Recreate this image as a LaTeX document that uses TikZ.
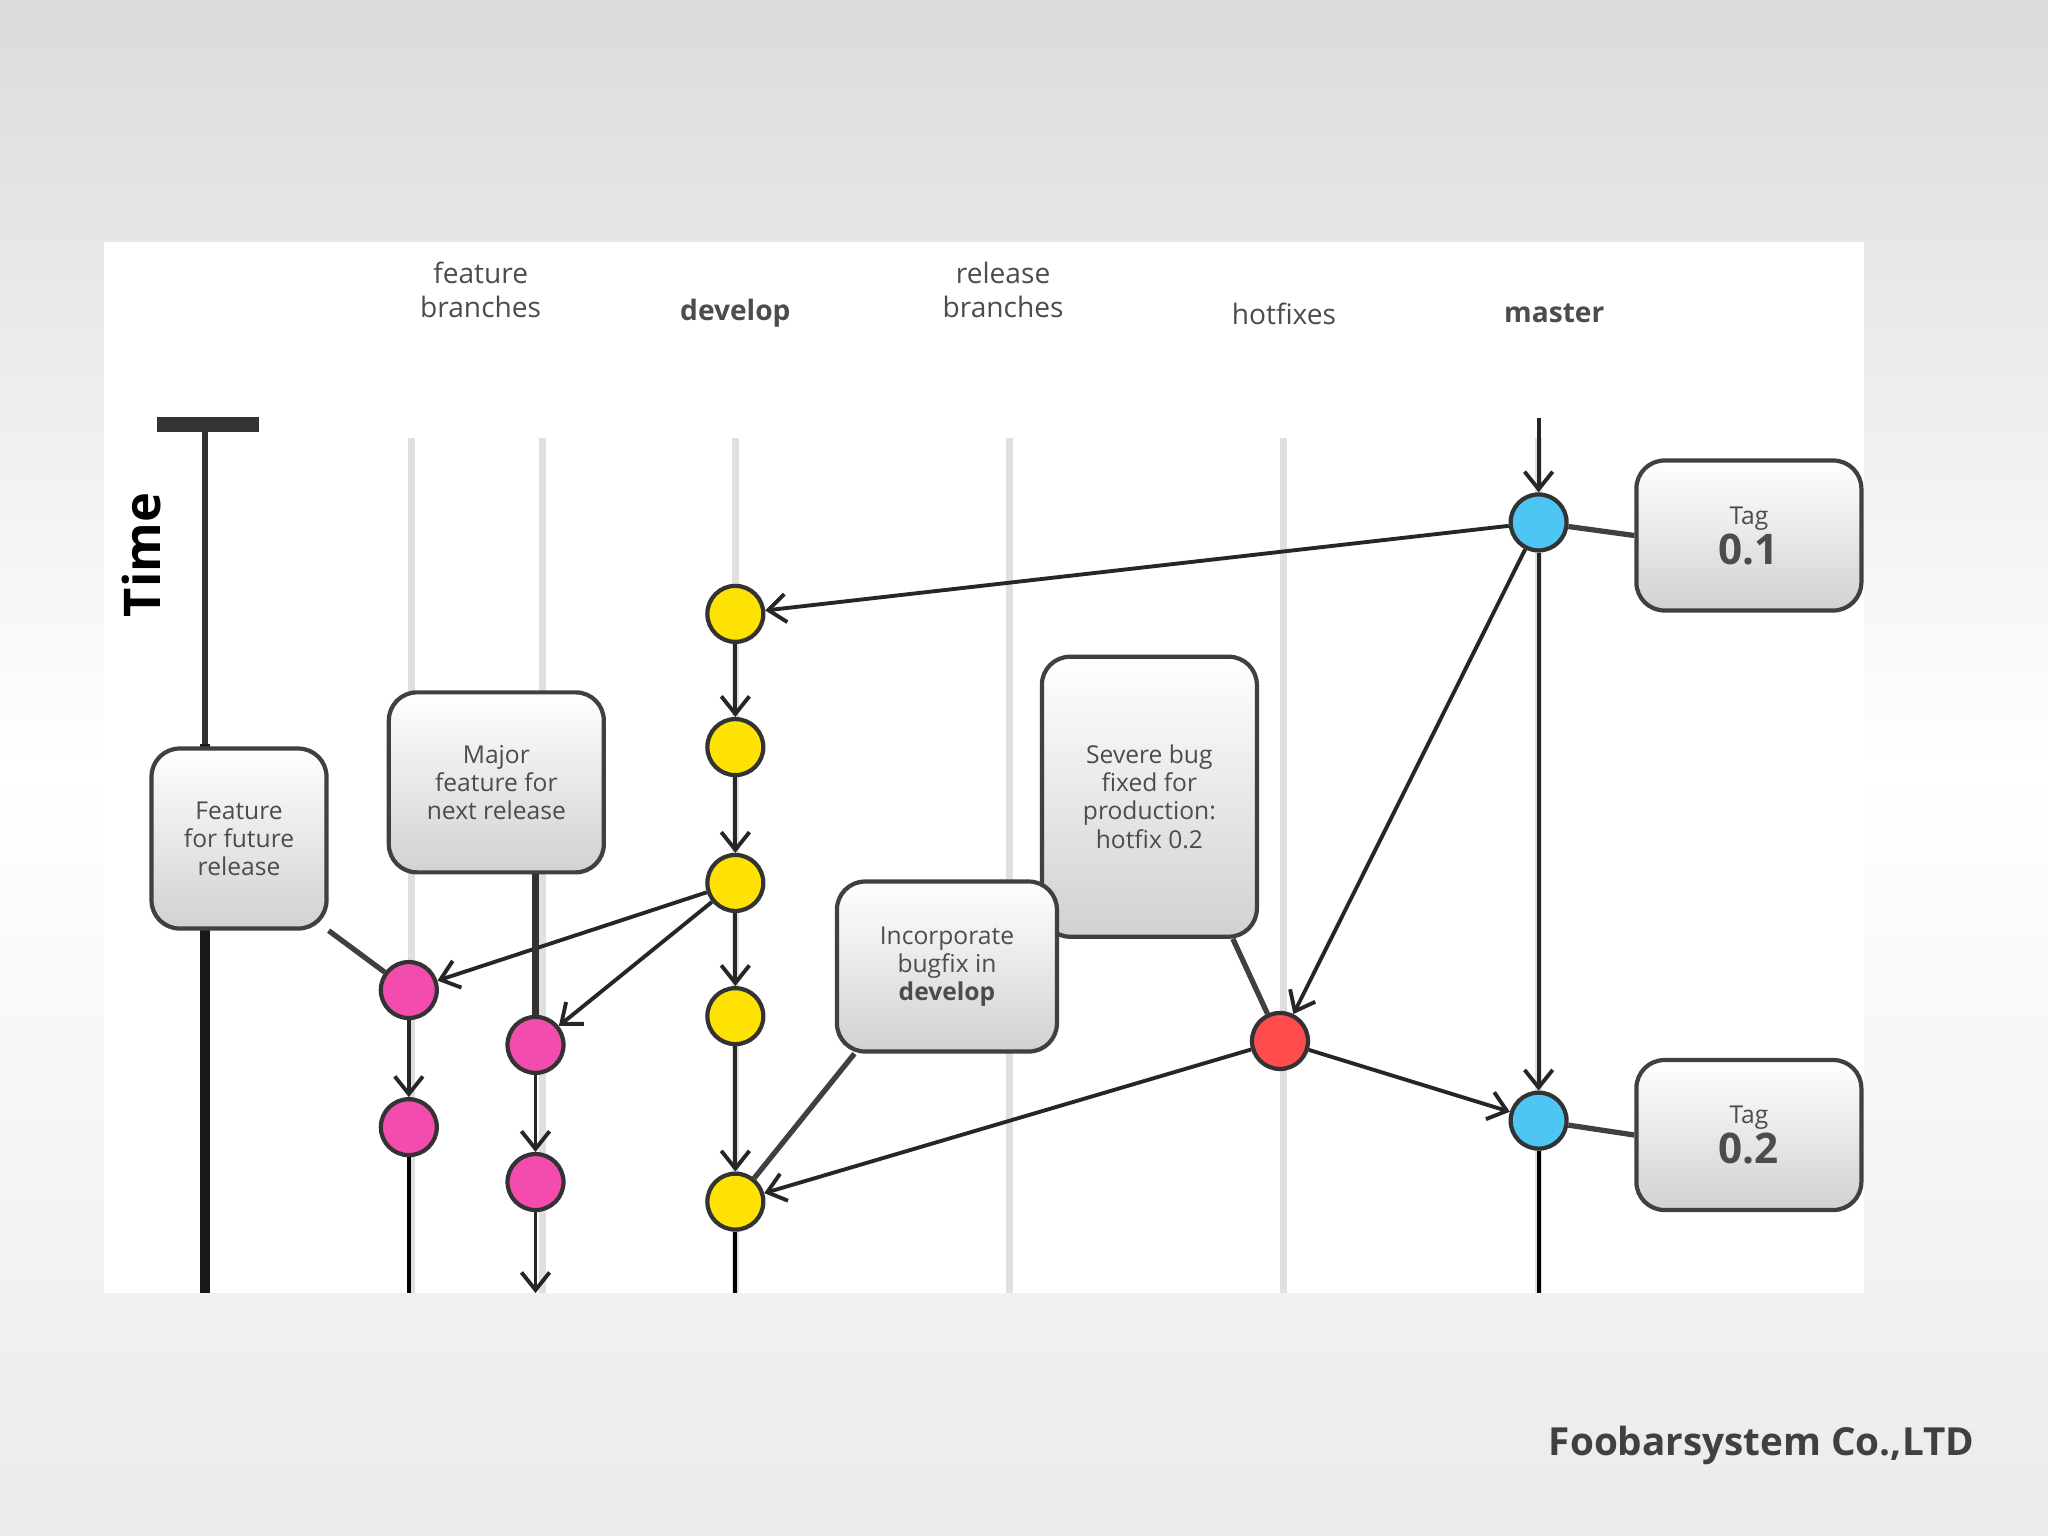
\documentclass[tikz,border=0pt]{standalone}
\usepackage{fontspec}
\setmainfont{Open Sans}
\usetikzlibrary{arrows.meta,shadows}
\tikzset{>={Straight Barb[length=5pt,width=8pt]}}
\tikzset{
  commit/.style={circle,draw=black!80,line width=1.2pt,minimum size=0.56cm,inner sep=0pt},
  dev/.style={commit,fill=yellow!85!orange},
  feat/.style={commit,fill=magenta!70},
  hot/.style={commit,fill=red!70},
  mast/.style={commit,fill=cyan!70},
  flow/.style={->,line width=1.1pt,black!85},
  lane/.style={line width=2pt,black!12},
  callout/.style={draw=black!75,line width=1.2pt,rounded corners=8pt,top color=white,bottom color=black!18,
    align=center,font=\scriptsize,text=black!70,inner sep=3pt},
  head/.style={font=\footnotesize,text=black!70,align=center}
}
\begin{document}
\begin{tikzpicture}[x=0.013061cm,y=-0.013061cm]
\useasboundingbox (0,0) rectangle (1568,1176);
% background
\shade[top color=black!14,bottom color=black!8,middle color=white] (0,0) rectangle (1568,1176);
\fill[white] (80,185) rectangle (1427,990);
% headers
\node[head] (hf) at (368,222) {feature\\branches};
\node[head,font=\footnotesize\bfseries] (hd) at (563,240) {develop};
\node[head] (hr) at (768,222) {release\\branches};
\node[head] (hh) at (983,240) {hotfixes};
\node[head,font=\footnotesize\bfseries] (hm) at (1190,240) {master};
% lanes
\foreach \x in {315,415,563,773,983,1178}
  \draw[lane] (\x,335) -- (\x,990);
% time axis
\draw[line width=1.5pt,black!80] (157,325) -- (157,570);
\draw[line width=3pt,black!90] (157,570) -- (157,990);
\draw[line width=4pt,black!80] (120,325) -- (198,325);
\node[rotate=90,font=\Large\bfseries] (time) at (108,425) {Time};
% commits
\node[dev] (d1) at (563,470) {};
\node[dev] (d2) at (563,572) {};
\node[dev] (d3) at (563,676) {};
\node[dev] (d4) at (563,778) {};
\node[dev] (d5) at (563,920) {};
\node[feat] (f1) at (313,758) {};
\node[feat] (f2) at (313,863) {};
\node[feat] (g1) at (410,800) {};
\node[feat] (g2) at (410,905) {};
\node[hot] (h1) at (980,797) {};
\node[mast] (m1) at (1178,400) {};
\node[mast] (m2) at (1178,858) {};
\coordinate (mtop) at (1178,320);
\coordinate (gend) at (410,990);
\coordinate (dend) at (563,990);
\coordinate (fend) at (313,990);
\coordinate (mend) at (1178,990);
% connectors
\draw[flow] (mtop) -- (m1);
\draw[flow] (m1) -- (d1);
\draw[flow] (d1) -- (d2);
\draw[flow] (d2) -- (d3);
\draw[flow] (d3) -- (d4);
\draw[flow] (d4) -- (d5);
\draw[flow] (d3) -- (f1);
\draw[flow] (d3) -- (g1);
\draw[flow] (f1) -- (f2);
\draw[flow] (g1) -- (g2);
\draw[flow] (g2) -- (gend);
\draw[line width=1.1pt] (d5) -- (dend);
\draw[line width=1.1pt] (f2) -- (fend);
\draw[line width=1.1pt] (m2) -- (mend);
\draw[flow] (m1) -- (h1);
\draw[flow] (m1) -- (m2);
\draw[flow] (h1) -- (m2);
\draw[flow] (h1) -- (d5);
% callouts
\node[callout,minimum width=1.75cm,minimum height=1.8cm] (cf) at (183,642) {Feature\\for future\\release};
\node[callout,minimum width=2.15cm,minimum height=1.8cm] (cm) at (380,599) {Major\\feature for\\next release};
\node[callout,minimum width=2.15cm,minimum height=2.8cm] (cs) at (880,610) {Severe bug\\fixed for\\production:\\hotfix 0.2};
\node[callout,minimum width=2.2cm,minimum height=1.7cm] (ci) at (725,740) {Incorporate\\bugfix in\\\textbf{develop}};
\node[callout,minimum width=2.25cm,minimum height=1.5cm] (t1) at (1339,410) {Tag\\\textbf{\large 0.1}};
\node[callout,minimum width=2.25cm,minimum height=1.5cm] (t2) at (1339,869) {Tag\\\textbf{\large 0.2}};
\draw[line width=1.5pt,black!75] (cf.south east) -- (f1);
\draw[line width=2pt,black!80] (cm.south -| g1) -- (g1);
\draw[line width=1.5pt,black!75] (cs.south east) ++(-20,0) -- (h1);
\draw[line width=1.5pt,black!75] (ci.south west) ++(15,0) -- (d5);
\draw[line width=1.5pt,black!75] (t1.west) -- (m1);
\draw[line width=1.5pt,black!75] (t2.west) -- (m2);
% footer
\node[anchor=east,font=\bfseries,text=black!75,scale=1.1] (foot) at (1522,1107) {Foobarsystem Co.,LTD};
\end{tikzpicture}
\end{document}
